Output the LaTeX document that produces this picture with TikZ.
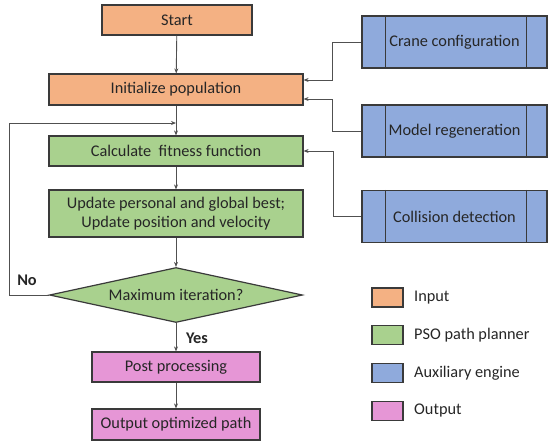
\documentclass[tikz,border=0pt]{standalone}
\usepackage{fontspec}
\setmainfont{Carlito}
\usetikzlibrary{shapes.geometric,arrows.meta}
\definecolor{cin}{HTML}{F4B183}
\definecolor{cpso}{HTML}{A9D18E}
\definecolor{caux}{HTML}{8FAADC}
\definecolor{cout}{HTML}{E696D6}
\definecolor{edge}{HTML}{3A3A3A}
\definecolor{txt}{HTML}{262626}
\definecolor{conn}{HTML}{505050}
\begin{document}
\begin{tikzpicture}[x=1pt,y=-1pt,font=\fontsize{16.3}{19}\selectfont,text=txt,
  box/.style={draw=edge,line width=1.2pt,rectangle,inner sep=2pt,align=center},
  auxbox/.style={box,fill=caux,minimum width=185pt,minimum height=52pt},
  leg/.style={draw=edge,line width=1.1pt,minimum width=31pt,minimum height=19pt,inner sep=0pt},
  legtxt/.style={anchor=west,inner sep=0pt},
  cn/.style={draw=conn,line width=0.9pt,-{Stealth[length=5pt,width=4pt]}},
  cnp/.style={draw=conn,line width=0.9pt}]
\useasboundingbox (0,0) rectangle (548,445);
% main flow
\node[box,fill=cin,minimum width=150pt,minimum height=30pt] (start) at (177,20) {Start};
\node[box,fill=cin,minimum width=254pt,minimum height=31pt] (init) at (176,89.5) {Initialize population};
\node[box,fill=cpso,minimum width=254pt,minimum height=30pt] (calc) at (176,151) {Calculate\ \ fitness function};
\node[box,fill=cpso,minimum width=254pt,minimum height=47pt] (upd) at (176,213.5) {Update personal and global best;\\Update position and velocity};
\node[draw=edge,line width=1.2pt,diamond,fill=cpso,aspect=4.6,inner sep=0pt,minimum width=253pt,minimum height=55pt] (dec) at (176,295) {Maximum iteration?};
\node[box,fill=cout,minimum width=168pt,minimum height=30pt] (post) at (176,367) {Post processing};
\node[box,fill=cout,minimum width=168pt,minimum height=31pt] (outp) at (176,424.5) {Output optimized path};
% auxiliary boxes
\node[auxbox] (crane) at (454.5,42) {Crane configuration};
\node[auxbox] (model) at (454.5,131) {Model regeneration};
\node[auxbox] (coll) at (454.5,216.5) {Collision detection};
\foreach \n in {crane,model,coll}{
  \draw[edge,line width=1.2pt] ([xshift=24pt]\n.north west) -- ([xshift=24pt]\n.south west);
  \draw[edge,line width=1.2pt] ([xshift=-21pt]\n.north east) -- ([xshift=-21pt]\n.south east);
}
% connectors
\draw[cn] (start) -- (init);
\draw[cn] (init) -- (calc);
\draw[cn] (calc) -- (upd);
\draw[cn] (upd) -- (dec);
\draw[cn] (dec) -- (post);
\draw[cn] (post) -- (outp);
\coordinate (join) at (176,123);
\draw[cn] (dec.west) -- (9,295) |- (join);
\draw[cn] (crane.west) -- (332,42) |- ([yshift=9.5pt]init.east);
\draw[cn] (model.west) -- (332,131) |- ([yshift=-9.5pt]init.east);
\draw[cn] (coll.west) -- (333,216.5) |- (calc.east);
% labels
\node[font=\fontsize{16.3}{19}\selectfont\bfseries] (no) at (27,280) {No};
\node[font=\fontsize{16.3}{19}\selectfont\bfseries] (yes) at (197,338) {Yes};
% legend
\node[leg,fill=cin] (l1) at (387.5,297.5) {};
\node[legtxt] (t1) at (414,297.5) {Input};
\node[leg,fill=cpso] (l2) at (387.5,335) {};
\node[legtxt] (t2) at (414,335) {PSO path planner};
\node[leg,fill=caux] (l3) at (387.5,373) {};
\node[legtxt] (t3) at (414,373) {Auxiliary engine};
\node[leg,fill=cout] (l4) at (387.5,411) {};
\node[legtxt] (t4) at (414,411) {Output};
\end{tikzpicture}
\end{document}
